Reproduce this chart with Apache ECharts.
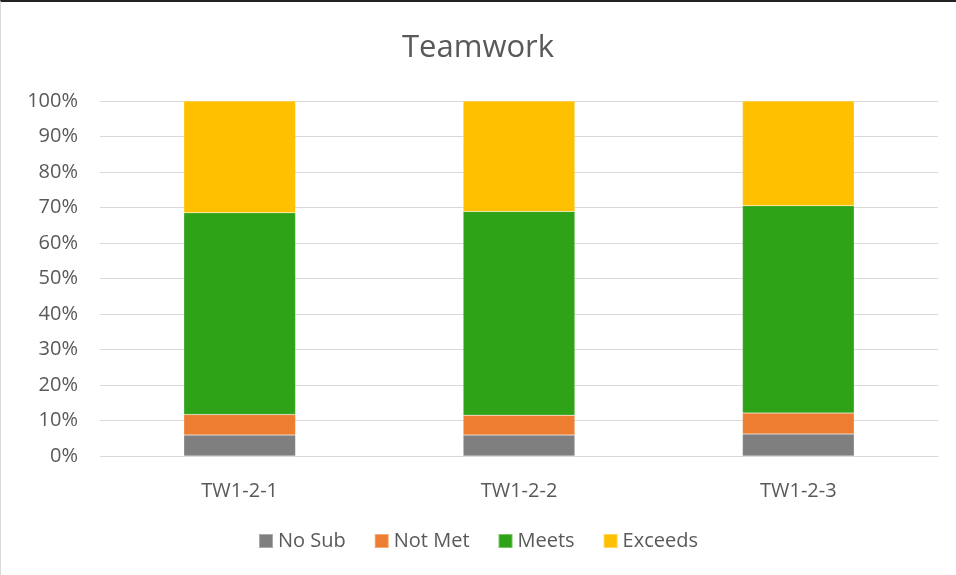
<!DOCTYPE html>
<html>
<head>
<meta charset="utf-8">
<script src="https://cdn.jsdelivr.net/npm/echarts@6/dist/echarts.min.js"></script>
<style>
html,body{margin:0;padding:0;background:#fff;}
#frame{position:absolute;left:0;top:0;width:956px;height:575px;box-sizing:border-box;border-top:2px solid #222;border-left:1px solid #d9d9d9;}
#chart{position:absolute;left:0;top:0;width:956px;height:575px;}
</style>
</head>
<body>
<div id="frame"></div>
<div id="chart"></div>
<script>
const categories = ['TW1-2-1', 'TW1-2-2', 'TW1-2-3'];
const noSub = [5.9, 5.9, 6.2];
const notMet = [5.8, 5.6, 5.9];
const meets = [56.8, 57.4, 58.4];
const exceeds = [31.5, 31.1, 29.5];
const yTicks = [0, 10, 20, 30, 40, 50, 60, 70, 80, 90, 100];

const font = '"Open Sans", "Liberation Sans", sans-serif';
const chart = echarts.init(document.getElementById('chart'));
const mk = (name, data, color) => ({
  name, type: 'bar', stack: 'total', data, barWidth: '40%',
  itemStyle: { color, borderColor: 'rgba(255,255,255,0.35)', borderWidth: 0.5 },
  emphasis: { disabled: true }
});
chart.setOption({
  animation: false,
  title: {
    text: 'Teamwork', left: 'center', top: 28,
    textStyle: { fontFamily: font, fontSize: 31, fontWeight: 'normal', color: '#595959' }
  },
  grid: { left: 100, right: 18, top: 101, bottom: 119 },
  legend: {
    bottom: 19, left: 'center', itemWidth: 14, itemHeight: 14, itemGap: 28,
    icon: 'rect',
    textStyle: { fontFamily: font, fontSize: 20, color: '#595959' },
    data: ['No Sub', 'Not Met', 'Meets', 'Exceeds']
  },
  xAxis: {
    type: 'category', data: categories,
    axisLine: { lineStyle: { color: '#d9d9d9', width: 1 } },
    axisTick: { show: false },
    axisLabel: { fontFamily: font, fontSize: 20, color: '#595959', margin: 25 }
  },
  yAxis: {
    type: 'value', min: yTicks[0], max: yTicks[yTicks.length - 1], interval: 10,
    axisLine: { show: false }, axisTick: { show: false },
    splitLine: { lineStyle: { color: '#d9d9d9', width: 1 } },
    axisLabel: { fontFamily: font, fontSize: 20, color: '#595959', margin: 22, formatter: v => v + '%' }
  },
  series: [
    mk('No Sub', noSub, '#7f7f7f'),
    mk('Not Met', notMet, '#ed7d31'),
    mk('Meets', meets, '#2ea318'),
    mk('Exceeds', exceeds, '#ffc000')
  ]
});
</script>
</body>
</html>
